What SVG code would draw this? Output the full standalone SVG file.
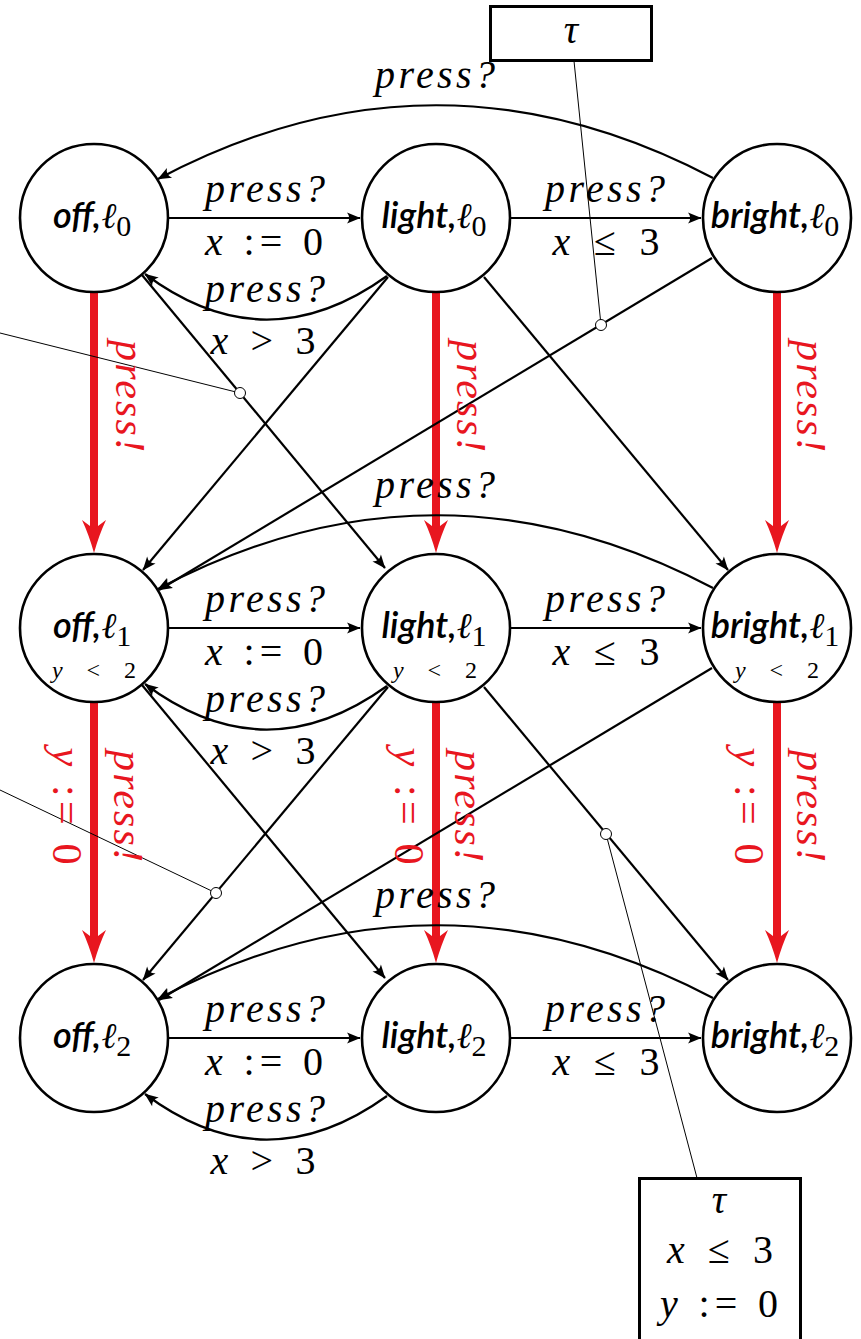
<svg xmlns="http://www.w3.org/2000/svg" width="861" height="1339" viewBox="0 0 861 1339">
<style>
.nc{fill:#fff;stroke:#000;stroke-width:2.6}
.e{fill:none;stroke:#000;stroke-width:2.2}
.r{fill:none;stroke:#e8161f;stroke-width:8}
.thin{fill:none;stroke:#000;stroke-width:1}
.dot{fill:#fff;stroke:#000;stroke-width:1}
.box{fill:#fff;stroke:#000;stroke-width:3}
</style>
<defs>
<marker id="ah" markerUnits="userSpaceOnUse" markerWidth="16" markerHeight="14" viewBox="-14 -7 16 14" refX="0" refY="0" orient="auto"><path d="M0.5,0 L-13,-5.5 Q-8.5,0 -13,5.5 Z" fill="#000"/></marker>
<marker id="rh" markerUnits="userSpaceOnUse" markerWidth="40" markerHeight="28" viewBox="-12 -14 40 28" refX="0" refY="0" orient="auto"><path d="M24,0 Q6,-5 -9,-12 L0,0 L-9,12 Q6,5 24,0 Z" fill="#e8161f"/></marker>
</defs>

<g id="connectors">
<g class="r" marker-end="url(#rh)">
<path d="M94,292 L94,529"/>
<path d="M436,292 L436,529"/>
<path d="M777,292 L777,529"/>
<path d="M94,702 L94,939"/>
<path d="M436,702 L436,939"/>
<path d="M777,702 L777,939"/>
</g>
<g class="e" marker-end="url(#ah)">
<path d="M169,218 L360,218"/>
<path d="M511,218 L701,218"/>
<path d="M387,276 Q265,364 145,274"/>
<path d="M713,178 Q435,32 158,179"/>
<path d="M169,628 L360,628"/>
<path d="M511,628 L701,628"/>
<path d="M387,686 Q265,774 145,684"/>
<path d="M713,588 Q435,442 158,589"/>
<path d="M169,1038 L360,1038"/>
<path d="M511,1038 L701,1038"/>
<path d="M387,1096 Q265,1184 145,1094"/>
<path d="M713,998 Q435,852 158,999"/>
<path d="M142,275 L385,568"/>
<path d="M388,277 L143,570"/>
<path d="M484,277 L728,570"/>
<path d="M712,258 L159,590"/>
<path d="M142,685 L385,978"/>
<path d="M388,687 L143,980"/>
<path d="M484,687 L728,980"/>
<path d="M712,668 L159,1000"/>
</g>
<g class="thin">
<path d="M0,333 L240,393"/>
<path d="M0,790 L216,893"/>
<path d="M574,61 L601,325"/>
<path d="M606,834 L697,1178"/>
</g>
<g class="dot">
<circle cx="240" cy="393" r="5.5"/>
<circle cx="601" cy="325" r="5.5"/>
<circle cx="216" cy="893" r="5.5"/>
<circle cx="606" cy="834" r="5.5"/>
</g>
</g>

<g id="labels">
<text font-family="Liberation Serif, Times New Roman, serif" font-size="40" text-anchor="middle" font-style="italic" x="265" y="202" textLength="120">press?</text>
<text font-family="Liberation Serif, Times New Roman, serif" font-size="40" text-anchor="middle" x="264" y="255" textLength="118"><tspan font-style="italic">x</tspan> := 0</text>
<text font-family="Liberation Serif, Times New Roman, serif" font-size="40" text-anchor="middle" font-style="italic" x="265" y="302" textLength="120">press?</text>
<text font-family="Liberation Serif, Times New Roman, serif" font-size="40" text-anchor="middle" x="263" y="354" textLength="105"><tspan font-style="italic">x</tspan> &gt; 3</text>
<text font-family="Liberation Serif, Times New Roman, serif" font-size="40" text-anchor="middle" font-style="italic" x="605" y="202" textLength="120">press?</text>
<text font-family="Liberation Serif, Times New Roman, serif" font-size="40" text-anchor="middle" x="606" y="255" textLength="107"><tspan font-style="italic">x</tspan> ≤ 3</text>
<text font-family="Liberation Serif, Times New Roman, serif" font-size="40" text-anchor="middle" font-style="italic" x="435" y="88" textLength="120">press?</text>
<text font-family="Liberation Serif, Times New Roman, serif" font-size="40" text-anchor="middle" font-style="italic" x="265" y="612" textLength="120">press?</text>
<text font-family="Liberation Serif, Times New Roman, serif" font-size="40" text-anchor="middle" x="264" y="665" textLength="118"><tspan font-style="italic">x</tspan> := 0</text>
<text font-family="Liberation Serif, Times New Roman, serif" font-size="40" text-anchor="middle" font-style="italic" x="265" y="712" textLength="120">press?</text>
<text font-family="Liberation Serif, Times New Roman, serif" font-size="40" text-anchor="middle" x="263" y="764" textLength="105"><tspan font-style="italic">x</tspan> &gt; 3</text>
<text font-family="Liberation Serif, Times New Roman, serif" font-size="40" text-anchor="middle" font-style="italic" x="605" y="612" textLength="120">press?</text>
<text font-family="Liberation Serif, Times New Roman, serif" font-size="40" text-anchor="middle" x="606" y="665" textLength="107"><tspan font-style="italic">x</tspan> ≤ 3</text>
<text font-family="Liberation Serif, Times New Roman, serif" font-size="40" text-anchor="middle" font-style="italic" x="435" y="498" textLength="120">press?</text>
<text font-family="Liberation Serif, Times New Roman, serif" font-size="40" text-anchor="middle" font-style="italic" x="265" y="1022" textLength="120">press?</text>
<text font-family="Liberation Serif, Times New Roman, serif" font-size="40" text-anchor="middle" x="264" y="1075" textLength="118"><tspan font-style="italic">x</tspan> := 0</text>
<text font-family="Liberation Serif, Times New Roman, serif" font-size="40" text-anchor="middle" font-style="italic" x="265" y="1122" textLength="120">press?</text>
<text font-family="Liberation Serif, Times New Roman, serif" font-size="40" text-anchor="middle" x="263" y="1174" textLength="105"><tspan font-style="italic">x</tspan> &gt; 3</text>
<text font-family="Liberation Serif, Times New Roman, serif" font-size="40" text-anchor="middle" font-style="italic" x="605" y="1022" textLength="120">press?</text>
<text font-family="Liberation Serif, Times New Roman, serif" font-size="40" text-anchor="middle" x="606" y="1075" textLength="107"><tspan font-style="italic">x</tspan> ≤ 3</text>
<text font-family="Liberation Serif, Times New Roman, serif" font-size="40" text-anchor="middle" font-style="italic" x="435" y="908" textLength="120">press?</text>
<text font-family="Liberation Serif, Times New Roman, serif" font-size="42" fill="#e8161f" text-anchor="middle" font-style="italic" transform="translate(116,396) rotate(90)" textLength="112">press!</text>
<text font-family="Liberation Serif, Times New Roman, serif" font-size="42" fill="#e8161f" text-anchor="middle" font-style="italic" transform="translate(457,396) rotate(90)" textLength="112">press!</text>
<text font-family="Liberation Serif, Times New Roman, serif" font-size="42" fill="#e8161f" text-anchor="middle" font-style="italic" transform="translate(797,396) rotate(90)" textLength="112">press!</text>
<text font-family="Liberation Serif, Times New Roman, serif" font-size="42" fill="#e8161f" text-anchor="middle" font-style="italic" transform="translate(114,806) rotate(90)" textLength="112">press!</text>
<text font-family="Liberation Serif, Times New Roman, serif" font-size="42" fill="#e8161f" text-anchor="middle" font-style="italic" transform="translate(455,806) rotate(90)" textLength="112">press!</text>
<text font-family="Liberation Serif, Times New Roman, serif" font-size="42" fill="#e8161f" text-anchor="middle" font-style="italic" transform="translate(797,806) rotate(90)" textLength="112">press!</text>
<text font-family="Liberation Serif, Times New Roman, serif" font-size="42" fill="#e8161f" text-anchor="middle" transform="translate(53,806) rotate(90)" textLength="117"><tspan font-style="italic">y</tspan> := 0</text>
<text font-family="Liberation Serif, Times New Roman, serif" font-size="42" fill="#e8161f" text-anchor="middle" transform="translate(395,806) rotate(90)" textLength="117"><tspan font-style="italic">y</tspan> := 0</text>
<text font-family="Liberation Serif, Times New Roman, serif" font-size="42" fill="#e8161f" text-anchor="middle" transform="translate(735,806) rotate(90)" textLength="117"><tspan font-style="italic">y</tspan> := 0</text>
</g>

<g id="n-off0"><circle class="nc" cx="94" cy="218" r="74"/><text font-family="Liberation Serif, serif" text-anchor="middle" x="92" y="228"><tspan font-family="Lato, sans-serif" font-style="italic" font-weight="600" font-size="36">off,</tspan><tspan font-family="Liberation Serif, serif" font-style="italic" font-size="36">ℓ</tspan><tspan font-family="Liberation Serif, serif" font-size="30" dy="8">0</tspan></text></g>
<g id="n-light0"><circle class="nc" cx="436" cy="218" r="74"/><text font-family="Liberation Serif, serif" text-anchor="middle" x="434" y="228"><tspan font-family="Lato, sans-serif" font-style="italic" font-weight="600" font-size="36">light,</tspan><tspan font-family="Liberation Serif, serif" font-style="italic" font-size="36">ℓ</tspan><tspan font-family="Liberation Serif, serif" font-size="30" dy="8">0</tspan></text></g>
<g id="n-bright0"><circle class="nc" cx="777" cy="218" r="74"/><text font-family="Liberation Serif, serif" text-anchor="middle" x="775" y="228"><tspan font-family="Lato, sans-serif" font-style="italic" font-weight="600" font-size="36">bright,</tspan><tspan font-family="Liberation Serif, serif" font-style="italic" font-size="36">ℓ</tspan><tspan font-family="Liberation Serif, serif" font-size="30" dy="8">0</tspan></text></g>

<g id="n-off1"><circle class="nc" cx="94" cy="628" r="74"/><text font-family="Liberation Serif, serif" text-anchor="middle" x="92" y="638"><tspan font-family="Lato, sans-serif" font-style="italic" font-weight="600" font-size="36">off,</tspan><tspan font-family="Liberation Serif, serif" font-style="italic" font-size="36">ℓ</tspan><tspan font-family="Liberation Serif, serif" font-size="30" dy="8">1</tspan></text><text font-family="Liberation Serif, serif" text-anchor="middle" x="94" y="678" font-size="24" textLength="84"><tspan font-style="italic">y</tspan> &lt; 2</text></g>
<g id="n-light1"><circle class="nc" cx="436" cy="628" r="74"/><text font-family="Liberation Serif, serif" text-anchor="middle" x="434" y="638"><tspan font-family="Lato, sans-serif" font-style="italic" font-weight="600" font-size="36">light,</tspan><tspan font-family="Liberation Serif, serif" font-style="italic" font-size="36">ℓ</tspan><tspan font-family="Liberation Serif, serif" font-size="30" dy="8">1</tspan></text><text font-family="Liberation Serif, serif" text-anchor="middle" x="435" y="678" font-size="24" textLength="84"><tspan font-style="italic">y</tspan> &lt; 2</text></g>
<g id="n-bright1"><circle class="nc" cx="777" cy="628" r="74"/><text font-family="Liberation Serif, serif" text-anchor="middle" x="775" y="638"><tspan font-family="Lato, sans-serif" font-style="italic" font-weight="600" font-size="36">bright,</tspan><tspan font-family="Liberation Serif, serif" font-style="italic" font-size="36">ℓ</tspan><tspan font-family="Liberation Serif, serif" font-size="30" dy="8">1</tspan></text><text font-family="Liberation Serif, serif" text-anchor="middle" x="777" y="678" font-size="24" textLength="84"><tspan font-style="italic">y</tspan> &lt; 2</text></g>

<g id="n-off2"><circle class="nc" cx="94" cy="1038" r="74"/><text font-family="Liberation Serif, serif" text-anchor="middle" x="92" y="1048"><tspan font-family="Lato, sans-serif" font-style="italic" font-weight="600" font-size="36">off,</tspan><tspan font-family="Liberation Serif, serif" font-style="italic" font-size="36">ℓ</tspan><tspan font-family="Liberation Serif, serif" font-size="30" dy="8">2</tspan></text></g>
<g id="n-light2"><circle class="nc" cx="436" cy="1038" r="74"/><text font-family="Liberation Serif, serif" text-anchor="middle" x="434" y="1048"><tspan font-family="Lato, sans-serif" font-style="italic" font-weight="600" font-size="36">light,</tspan><tspan font-family="Liberation Serif, serif" font-style="italic" font-size="36">ℓ</tspan><tspan font-family="Liberation Serif, serif" font-size="30" dy="8">2</tspan></text></g>
<g id="n-bright2"><circle class="nc" cx="777" cy="1038" r="74"/><text font-family="Liberation Serif, serif" text-anchor="middle" x="775" y="1048"><tspan font-family="Lato, sans-serif" font-style="italic" font-weight="600" font-size="36">bright,</tspan><tspan font-family="Liberation Serif, serif" font-style="italic" font-size="36">ℓ</tspan><tspan font-family="Liberation Serif, serif" font-size="30" dy="8">2</tspan></text></g>

<g id="box-top"><rect class="box" x="490.5" y="6.5" width="161" height="54"/><text font-family="Liberation Serif, serif" text-anchor="middle" x="571" y="43" font-size="40" font-style="italic">τ</text></g>
<g id="box-bottom"><rect class="box" x="639.5" y="1178.5" width="161" height="200"/><text font-family="Liberation Serif, serif" font-size="40" text-anchor="middle" x="719" y="1213" font-style="italic">τ</text><text font-family="Liberation Serif, serif" font-size="40" text-anchor="middle" x="720" y="1263" textLength="106"><tspan font-style="italic">x</tspan> ≤ 3</text><text font-family="Liberation Serif, serif" font-size="40" text-anchor="middle" x="719" y="1317" textLength="118"><tspan font-style="italic">y</tspan> := 0</text></g>
</svg>
